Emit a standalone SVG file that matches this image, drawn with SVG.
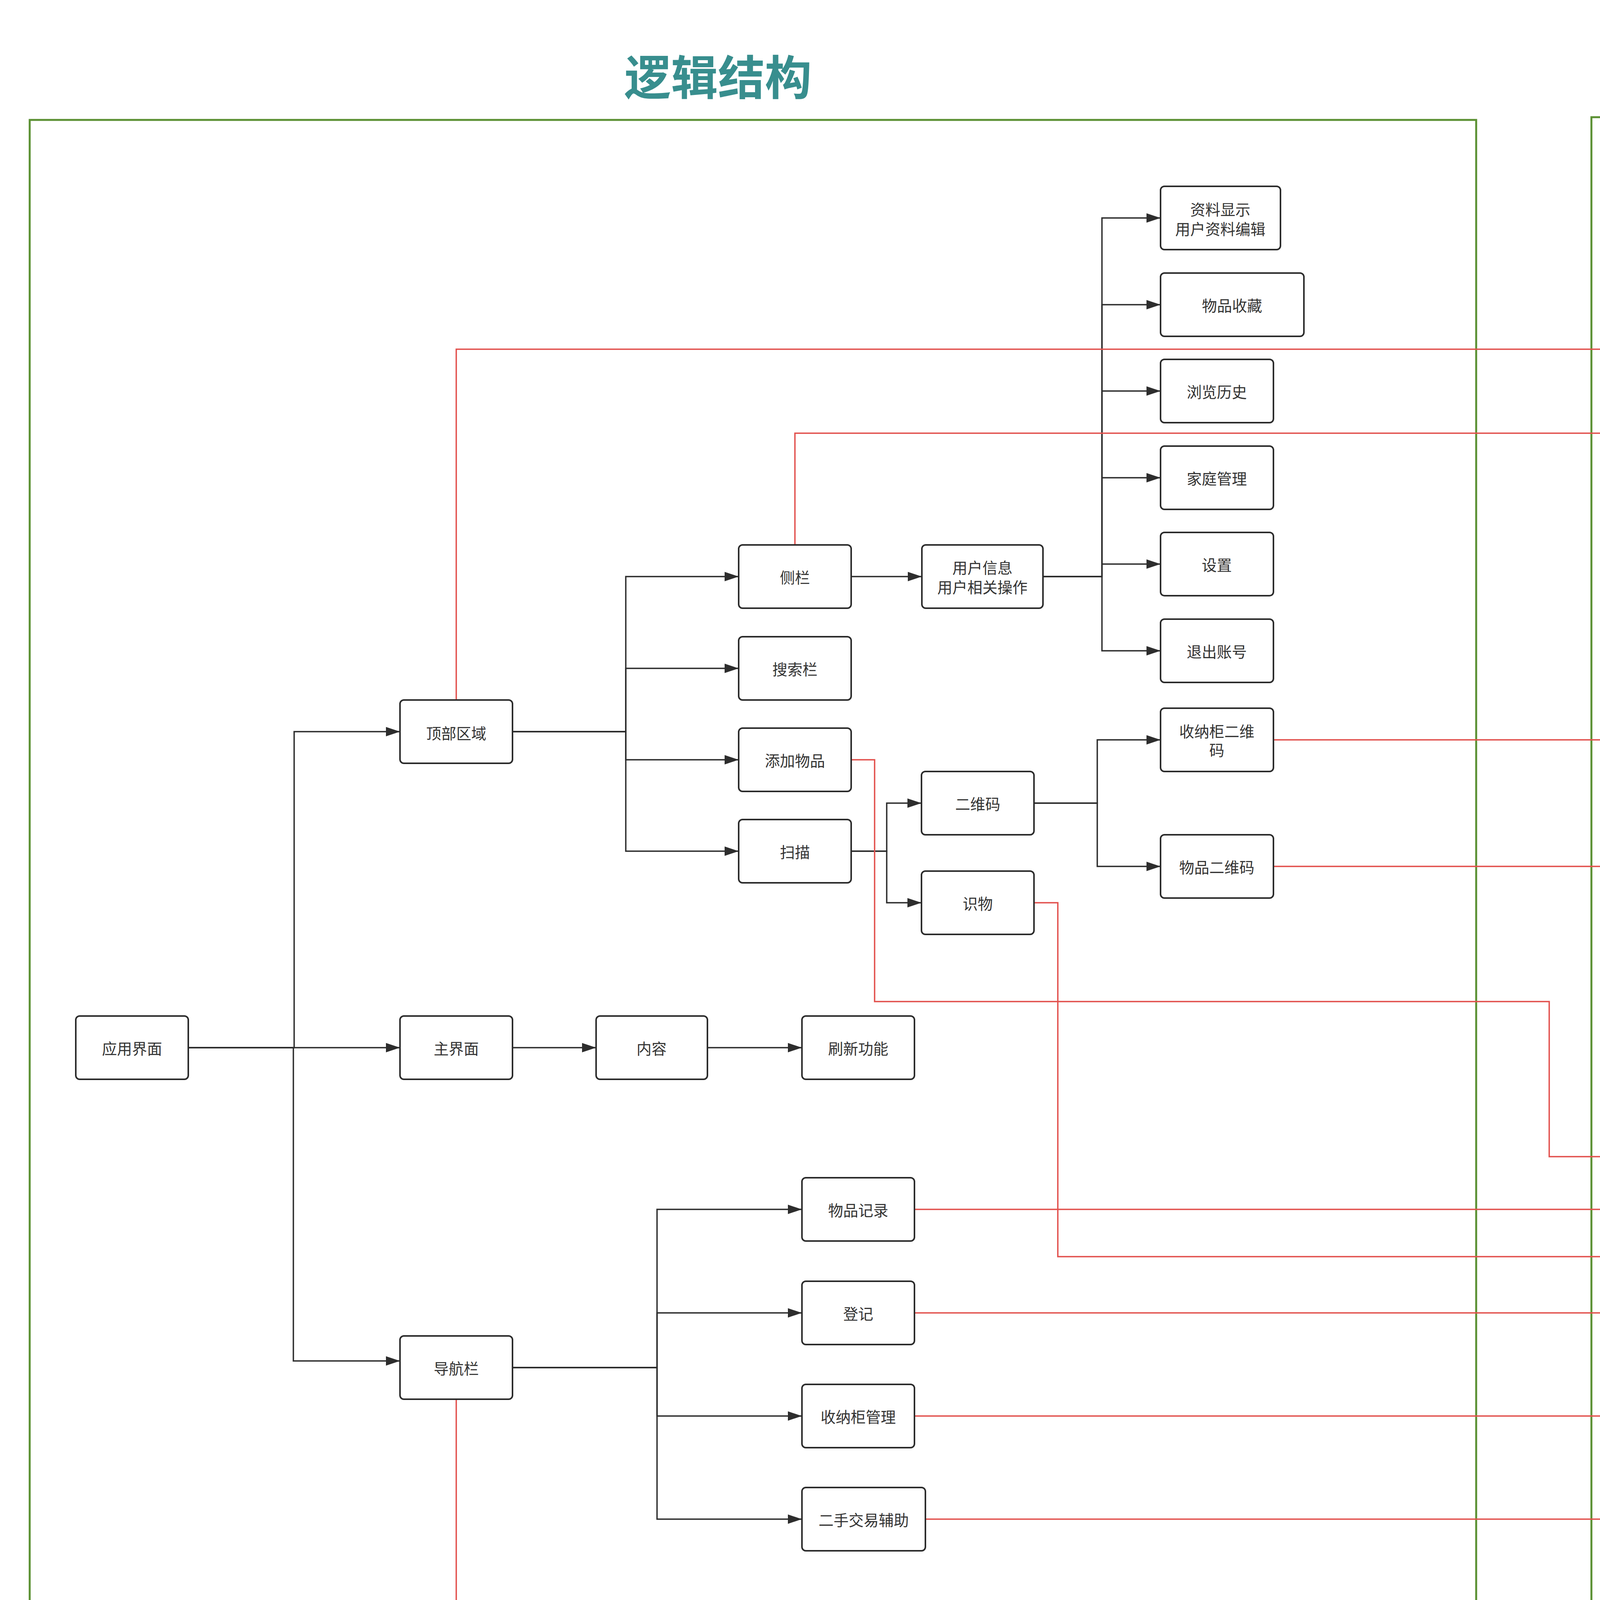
<svg xmlns="http://www.w3.org/2000/svg" width="5161" height="4406" viewBox="0 0 5161 4406">
<style>
.frame{fill:none;stroke:#5a9032;stroke-width:5}
.box{fill:#fff;stroke:#2b2b2b;stroke-width:4}
.bt{font-family:"Noto Sans CJK SC","Noto Sans",sans-serif;font-size:38.5px;fill:#333;text-anchor:middle;dominant-baseline:central}
.pill{fill:#fff;stroke:#66b3f0;stroke-width:5}
.pt{font-family:"Noto Sans","Noto Sans CJK SC",sans-serif;font-size:41px;fill:#5a8f2b;text-anchor:middle;dominant-baseline:central}
.zh{font-family:"Noto Sans CJK SC",sans-serif;font-weight:700}
.en{font-weight:600}
.title{font-family:"Noto Sans CJK SC","Noto Sans",sans-serif;font-weight:700;font-size:120px;fill:#388e8e;text-anchor:middle;dominant-baseline:central}
.bl{fill:none;stroke:#2d2d2d;stroke-width:3.5;marker-end:url(#ab)}
.rl{fill:none;stroke:#e2504c;stroke-width:3.5;marker-end:url(#ar)}
</style>
<defs>
<marker id="ab" markerUnits="userSpaceOnUse" markerWidth="36" markerHeight="24" refX="36" refY="12" orient="auto"><path d="M0,0 L36,12 L0,24 z" fill="#2d2d2d"/></marker>
<marker id="ar" markerUnits="userSpaceOnUse" markerWidth="38" markerHeight="26" refX="38" refY="13" orient="auto"><path d="M0,0 L38,13 L0,26 z" fill="#e2504c"/></marker>
</defs>
<rect width="5161" height="4406" fill="#fff"/>
<g id="titles">
<text class="title" x="1838" y="191">逻辑结构</text>
<text class="title" x="4421" y="191" style="font-family:'Noto Sans',sans-serif">UI</text>
</g>
<g id="frames">
<rect class="frame" x="76" y="307" width="3703" height="4016"/>
<rect class="frame" x="4074" y="300" width="690" height="4031"/>
</g>
<g id="connectors">
<path class="bl" d="M482,2682 H753 V1873 H1024"/>
<path class="bl" d="M482,2682 H1024"/>
<path class="bl" d="M482,2682 H751 V3484 H1024"/>
<path class="bl" d="M1312,1873 H1602 V1476 H1891"/>
<path class="bl" d="M1312,1873 H1602 V1711 H1891"/>
<path class="bl" d="M1312,1873 H1602 V1945 H1891"/>
<path class="bl" d="M1312,1873 H1602 V2179 H1891"/>
<path class="bl" d="M2179,1476 H2360"/>
<path class="bl" d="M2670,1476 H2821 V558 H2971"/>
<path class="bl" d="M2670,1476 H2821 V780 H2971"/>
<path class="bl" d="M2670,1476 H2821 V1001 H2971"/>
<path class="bl" d="M2670,1476 H2821 V1223 H2971"/>
<path class="bl" d="M2670,1476 H2821 V1444 H2971"/>
<path class="bl" d="M2670,1476 H2821 V1666 H2971"/>
<path class="bl" d="M2179,2179 H2270 V2056 H2359"/>
<path class="bl" d="M2179,2179 H2270 V2311 H2359"/>
<path class="bl" d="M2647,2056 H2809 V1894 H2971"/>
<path class="bl" d="M2647,2056 H2809 V2218 H2971"/>
<path class="bl" d="M1312,2682 H1526"/>
<path class="bl" d="M1811,2682 H2053"/>
<path class="bl" d="M1312,3501 H1682 V3096 H2053"/>
<path class="bl" d="M1312,3501 H1682 V3361 H2053"/>
<path class="bl" d="M1312,3501 H1682 V3625 H2053"/>
<path class="bl" d="M1312,3501 H1682 V3889 H2053"/>
<path class="rl" d="M1168,1792 V894 H4931 V2372 H4570"/>
<path class="rl" d="M1168,3582 V4101 H4929 V2372 H4570"/>
<path class="rl" d="M2035,1395 V1109 H4419 V1538"/>
<path class="rl" d="M2179,1945 H2239 V2564 H3966 V2961 H4419 V3010"/>
<path class="rl" d="M2647,2311 H2708 V3217 H4419 V3293"/>
<path class="rl" d="M3260,1894 H5086 V3635 H4610"/>
<path class="rl" d="M3260,2218 H4685 V3097 H4596"/>
<path class="rl" d="M2341,3096 H4243"/>
<path class="rl" d="M2341,3361 H4269"/>
<path class="rl" d="M2341,3625 H4229"/>
<path class="rl" d="M2369,3889 H4226"/>
</g>
<g id="n-app"><rect class="box" x="194" y="2601" width="288" height="162" rx="10"/><text class="bt" x="338" y="2682">应用界面</text></g>
<g id="n-top"><rect class="box" x="1024" y="1792" width="288" height="162" rx="10"/><text class="bt" x="1168" y="1875">顶部区域</text></g>
<g id="n-main"><rect class="box" x="1024" y="2601" width="288" height="162" rx="10"/><text class="bt" x="1168" y="2682">主界面</text></g>
<g id="n-nav"><rect class="box" x="1024" y="3420" width="288" height="162" rx="10"/><text class="bt" x="1168" y="3501">导航栏</text></g>
<g id="n-side"><rect class="box" x="1891" y="1395" width="288" height="162" rx="10"/><text class="bt" x="2035" y="1476">侧栏</text></g>
<g id="n-search"><rect class="box" x="1891" y="1630" width="288" height="162" rx="10"/><text class="bt" x="2035" y="1711">搜索栏</text></g>
<g id="n-add"><rect class="box" x="1891" y="1864" width="288" height="162" rx="10"/><text class="bt" x="2035" y="1945">添加物品</text></g>
<g id="n-scan"><rect class="box" x="1891" y="2098" width="288" height="162" rx="10"/><text class="bt" x="2035" y="2179">扫描</text></g>
<g id="n-user"><rect class="box" x="2360" y="1395" width="310" height="162" rx="10"/><text class="bt" x="2515" y="1451">用户信息</text><text class="bt" x="2515" y="1501">用户相关操作</text></g>
<g id="n-qr"><rect class="box" x="2359" y="1975" width="288" height="162" rx="10"/><text class="bt" x="2503" y="2056">二维码</text></g>
<g id="n-recog"><rect class="box" x="2359" y="2230" width="288" height="162" rx="10"/><text class="bt" x="2503" y="2311">识物</text></g>
<g id="n-profile"><rect class="box" x="2971" y="477" width="307" height="162" rx="10"/><text class="bt" x="3124" y="534">资料显示</text><text class="bt" x="3124" y="584">用户资料编辑</text></g>
<g id="n-fav"><rect class="box" x="2971" y="699" width="367" height="162" rx="10"/><text class="bt" x="3154" y="780">物品收藏</text></g>
<g id="n-hist"><rect class="box" x="2971" y="920" width="289" height="162" rx="10"/><text class="bt" x="3115" y="1001">浏览历史</text></g>
<g id="n-family"><rect class="box" x="2971" y="1142" width="289" height="162" rx="10"/><text class="bt" x="3115" y="1223">家庭管理</text></g>
<g id="n-set"><rect class="box" x="2971" y="1363" width="289" height="162" rx="10"/><text class="bt" x="3115" y="1444">设置</text></g>
<g id="n-logout"><rect class="box" x="2971" y="1585" width="289" height="162" rx="10"/><text class="bt" x="3115" y="1666">退出账号</text></g>
<g id="n-cabqr"><rect class="box" x="2971" y="1813" width="289" height="162" rx="10"/><text class="bt" x="3115" y="1870">收纳柜二维</text><text class="bt" x="3115" y="1918">码</text></g>
<g id="n-itemqr"><rect class="box" x="2971" y="2137" width="289" height="162" rx="10"/><text class="bt" x="3115" y="2218">物品二维码</text></g>
<g id="n-content"><rect class="box" x="1526" y="2601" width="285" height="162" rx="10"/><text class="bt" x="1668" y="2682">内容</text></g>
<g id="n-refresh"><rect class="box" x="2053" y="2601" width="288" height="162" rx="10"/><text class="bt" x="2197" y="2682">刷新功能</text></g>
<g id="n-rec"><rect class="box" x="2053" y="3015" width="288" height="162" rx="10"/><text class="bt" x="2197" y="3096">物品记录</text></g>
<g id="n-reg"><rect class="box" x="2053" y="3280" width="288" height="162" rx="10"/><text class="bt" x="2197" y="3361">登记</text></g>
<g id="n-cab"><rect class="box" x="2053" y="3544" width="288" height="162" rx="10"/><text class="bt" x="2197" y="3625">收纳柜管理</text></g>
<g id="n-trade"><rect class="box" x="2053" y="3808" width="316" height="162" rx="10"/><text class="bt" x="2211" y="3889">二手交易辅助</text></g>
<g id="u-side"><rect class="pill" x="4268" y="1538" width="302" height="150" rx="50" ry="75"/><text class="pt" x="4419" y="1590"><tspan class="zh">侧栏</tspan></text><text class="pt" x="4419" y="1644"><tspan class="en">SideBar</tspan></text></g>
<g id="u-top"><rect class="pill" x="4268" y="2245" width="302" height="253" rx="84" ry="126"/><text class="pt" x="4419" y="2297"><tspan class="zh">顶部区域</tspan></text><text class="pt" x="4419" y="2350"><tspan class="en">TopBar</tspan></text><text class="pt" x="4419" y="2402"><tspan class="zh">导航栏</tspan></text><text class="pt" x="4419" y="2455"><tspan class="en">NaviBar</tspan></text></g>
<g id="u-record"><rect class="pill" x="4243" y="3010" width="353" height="172" rx="56" ry="86"/><text class="pt" x="4419" y="3047"><tspan class="zh">日历记录界面</tspan></text><text class="pt" x="4419" y="3100"><tspan class="en">RecordActivity</tspan></text></g>
<g id="u-add"><rect class="pill" x="4269" y="3293" width="300" height="135" rx="45" ry="67"/><text class="pt" x="4419" y="3338"><tspan class="zh">添加界面</tspan></text><text class="pt" x="4419" y="3391"><tspan class="en">AddActivity</tspan></text></g>
<g id="u-manage"><rect class="pill" x="4229" y="3543" width="381" height="151" rx="50" ry="75"/><text class="pt" x="4419" y="3595"><tspan class="zh">管理界面</tspan></text><text class="pt" x="4419" y="3649"><tspan class="en">ManageActivity</tspan></text></g>
<g id="u-assist"><rect class="pill" x="4226" y="3813" width="387" height="151" rx="50" ry="75"/><text class="pt" x="4419" y="3865"><tspan class="zh">辅助界面</tspan></text><text class="pt" x="4419" y="3919"><tspan class="en">AssistantActivity</tspan></text></g>
</svg>
